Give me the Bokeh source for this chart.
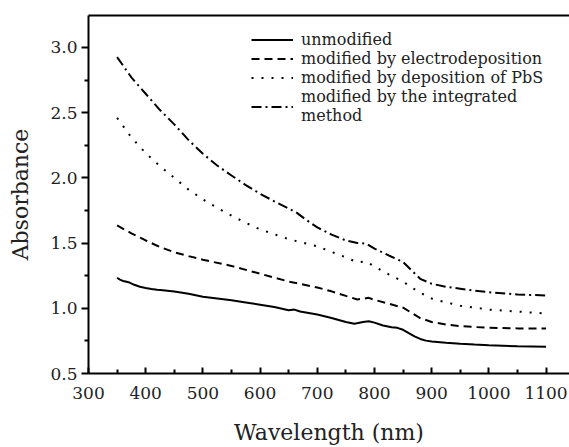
from bokeh.plotting import figure
from bokeh.models import LinearAxis, FixedTicker, Legend, LegendItem, Range1d, NumeralTickFormatter
from bokeh.embed import file_html
from bokeh.resources import INLINE

# ---- data ----
wl_unmod = [350, 355, 360, 365, 370, 380, 390, 400, 410, 420, 430, 450, 475, 500, 525, 550,
            575, 600, 625, 650, 660, 670, 700, 725, 750, 765, 780, 790, 800, 815, 830, 840,
            850, 860, 870, 880, 890, 900, 925, 950, 975, 1000, 1050, 1100]
ab_unmod = [1.234, 1.22, 1.21, 1.205, 1.2, 1.18, 1.165, 1.155, 1.148, 1.142, 1.138, 1.128,
            1.112, 1.088, 1.075, 1.062, 1.045, 1.028, 1.01, 0.985, 0.99, 0.975, 0.952, 0.925,
            0.895, 0.882, 0.895, 0.9, 0.89, 0.868, 0.855, 0.85, 0.835, 0.81, 0.785, 0.765,
            0.752, 0.745, 0.735, 0.728, 0.722, 0.717, 0.709, 0.706]

wl_electro = [350, 375, 400, 425, 450, 475, 500, 550, 600, 650, 700, 725, 750, 770, 790, 800,
              825, 850, 865, 880, 900, 925, 950, 1000, 1050, 1100]
ab_electro = [1.635, 1.575, 1.52, 1.47, 1.43, 1.40, 1.372, 1.325, 1.265, 1.205, 1.16, 1.13,
              1.095, 1.068, 1.08, 1.065, 1.035, 1.005, 0.965, 0.925, 0.895, 0.875, 0.863,
              0.85, 0.846, 0.845]

wl_pbs = [350, 375, 400, 425, 450, 475, 500, 525, 550, 575, 600, 650, 700, 750, 770, 785, 800,
          825, 850, 865, 880, 900, 925, 950, 1000, 1050, 1100]
ab_pbs = [2.46, 2.31, 2.19, 2.09, 2.0, 1.91, 1.835, 1.77, 1.71, 1.655, 1.605, 1.53, 1.475,
          1.39, 1.353, 1.36, 1.32, 1.26, 1.205, 1.16, 1.12, 1.075, 1.045, 1.02, 0.99, 0.975,
          0.96]

wl_integ = [350, 375, 400, 425, 450, 475, 500, 525, 550, 575, 600, 625, 650, 665, 680, 700,
            725, 750, 770, 785, 800, 825, 850, 865, 880, 900, 925, 950, 975, 1000, 1050, 1100]
ab_integ = [2.926, 2.77, 2.645, 2.52, 2.41, 2.29, 2.185, 2.095, 2.018, 1.945, 1.878, 1.82,
            1.765, 1.73, 1.68, 1.62, 1.565, 1.52, 1.5, 1.497, 1.458, 1.405, 1.355, 1.29,
            1.226, 1.188, 1.165, 1.15, 1.135, 1.123, 1.106, 1.098]

labels = ["unmodified", "modified by electrodeposition", "modified by deposition of PbS",
          "modified by the integrated\nmethod"]
x_ticks = [300, 400, 500, 600, 700, 800, 900, 1000, 1100]
y_ticks = [0.5, 1.0, 1.5, 2.0, 2.5, 3.0]

FONT = "DejaVu Serif"

p = figure(width=569, height=447, output_backend="svg", toolbar_location=None,
           x_range=Range1d(300, 1141), y_range=Range1d(0.5, 3.245),
           min_border_left=88, min_border_right=0, min_border_top=15, min_border_bottom=74,
           x_axis_label="Wavelength (nm)", y_axis_label="Absorbance")
p.outline_line_color = None
p.grid.visible = False
p.background_fill_color = "white"
p.border_fill_color = "white"

r1 = p.line(wl_unmod, ab_unmod, line_color="black", line_width=2)
r2 = p.line(wl_electro, ab_electro, line_color="black", line_width=2, line_dash="8 5")
r3 = p.line(wl_pbs, ab_pbs, line_color="black", line_width=2, line_dash="2 8")
r4 = p.line(wl_integ, ab_integ, line_color="black", line_width=2, line_dash="10 4 2 4")

xa = p.xaxis[0]
xa.ticker = FixedTicker(ticks=x_ticks, minor_ticks=[t + 50 for t in x_ticks])
xa.major_tick_in = 6
xa.major_tick_out = 0
xa.minor_tick_in = 4
xa.minor_tick_out = 0
xa.major_label_standoff = 13
xa.axis_label_standoff = 18

ya = p.yaxis[0]
ya.ticker = FixedTicker(ticks=y_ticks, minor_ticks=[t + 0.25 for t in y_ticks])
ya.formatter = NumeralTickFormatter(format="0.0")
ya.major_tick_in = 0
ya.major_tick_out = 7
ya.minor_tick_in = 0
ya.minor_tick_out = 4
ya.major_label_standoff = 4
ya.axis_label_standoff = 14

for ax in (xa, ya):
    ax.axis_line_width = 2
    ax.axis_line_color = "black"
    ax.major_tick_line_width = 2
    ax.minor_tick_line_width = 2
    ax.major_tick_line_color = "black"
    ax.minor_tick_line_color = "black"
    ax.major_label_text_font = FONT
    ax.major_label_text_font_size = "17px"
    ax.major_label_text_color = "#222222"
    ax.axis_label_text_font = FONT
    ax.axis_label_text_font_size = "22px"
    ax.axis_label_text_font_style = "normal"
    ax.axis_label_text_color = "#222222"

top = LinearAxis(ticker=FixedTicker(ticks=[]), axis_line_width=2, axis_line_color="black",
                 major_tick_line_color=None, minor_tick_line_color=None,
                 major_label_text_font_size="0px")
p.add_layout(top, "above")

legend = Legend(items=[LegendItem(label=labels[0], renderers=[r1]),
                       LegendItem(label=labels[1], renderers=[r2]),
                       LegendItem(label=labels[2], renderers=[r3]),
                       LegendItem(label=labels[3], renderers=[r4])],
                location=(163, 248))
legend.label_text_font = FONT
legend.label_text_font_size = "16px"
legend.label_text_line_height = 1.05
legend.label_text_color = "#222222"
legend.label_height = 17
legend.glyph_height = 17
legend.glyph_width = 42
legend.label_standoff = 8
legend.spacing = 0
legend.padding = 0
legend.margin = 0
legend.border_line_color = None
legend.background_fill_alpha = 0
p.add_layout(legend, "center")

open("out.html", "w").write(file_html(p, INLINE))
